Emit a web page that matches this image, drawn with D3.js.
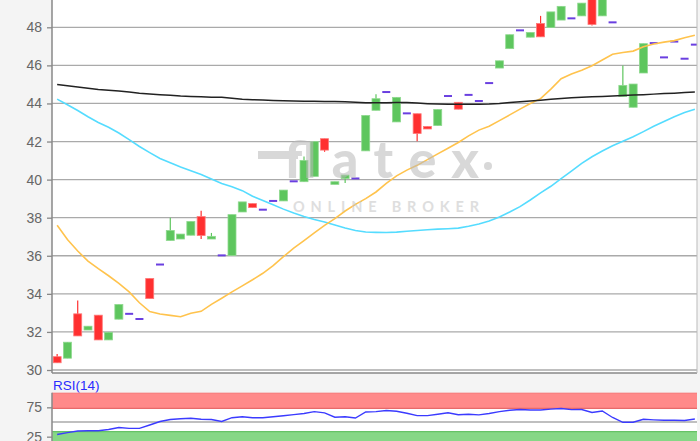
<!DOCTYPE html>
<html><head><meta charset="utf-8">
<script src="https://cdn.jsdelivr.net/npm/d3@7"></script>
<style>html,body{margin:0;padding:0;background:#f4f4f4;} svg{display:block;}</style>
</head><body><svg id="c" width="700" height="441"></svg>
<script>
// ---- data ----
const opens  = [30.70,30.62,32.95,32.10,32.88,31.58,32.67,32.95,32.68,34.81,35.54,36.80,36.88,37.08,38.06,36.88,36.02,36.02,38.30,38.74,38.42,38.88,38.88,39.91,39.89,40.17,42.15,39.75,40.06,40.06,41.51,43.64,44.60,43.03,43.48,43.46,42.79,42.84,44.39,44.06,44.45,44.13,45.07,45.86,46.88,47.84,47.48,48.20,47.99,48.38,48.47,48.60,49.90,48.60,48.26,44.36,43.80,45.60,47.17,46.42,47.25,46.35,47.09];
const closes = [30.38,31.46,31.79,32.30,31.58,31.98,33.44,32.95,32.68,33.75,35.54,37.33,37.14,37.80,37.06,37.02,36.02,38.16,38.83,38.53,38.42,38.88,39.45,39.91,41.01,42.00,41.55,39.89,40.24,40.06,43.37,44.25,44.60,44.32,43.48,42.42,42.66,43.68,44.39,43.70,44.45,44.13,45.07,46.24,47.61,47.84,47.73,47.50,48.81,49.10,48.47,49.27,48.15,49.70,48.26,44.95,45.02,47.14,47.17,46.42,47.25,46.35,47.09];
const highs  = [30.84,31.46,33.65,32.30,32.88,31.98,33.44,32.95,32.68,34.81,35.54,38.00,37.14,37.80,38.37,37.20,36.02,38.16,38.83,38.74,38.42,38.88,39.45,39.91,41.22,42.00,42.15,39.89,40.24,40.06,43.37,44.49,44.60,44.32,43.48,43.46,42.79,43.68,44.39,44.06,44.45,44.13,45.07,46.24,47.61,47.84,47.73,48.60,48.81,49.10,48.47,49.27,49.90,49.70,48.26,46.00,45.02,47.14,47.17,46.42,47.25,46.35,47.09];
const lows   = [30.38,30.62,31.79,32.10,31.58,31.58,32.67,32.95,32.68,33.75,35.54,36.80,36.88,37.08,36.88,36.88,36.02,36.02,38.30,38.53,38.42,38.88,38.88,39.91,39.89,40.17,41.46,39.75,39.82,40.06,41.51,43.64,44.60,43.03,43.48,42.02,42.66,42.84,44.39,43.70,44.45,44.13,45.07,45.86,46.88,47.84,47.48,47.50,47.99,48.38,48.47,48.60,48.10,48.60,48.26,44.36,43.80,45.60,47.17,46.42,47.25,46.35,47.09];
const maShort = [37.6,36.85,36.25,35.72,35.32,34.95,34.55,34.1,33.53,33.07,32.94,32.87,32.8,32.98,33.08,33.45,33.77,34.1,34.42,34.74,35.08,35.48,35.95,36.4,36.8,37.2,37.6,37.95,38.35,38.7,39.0,39.35,39.8,40.2,40.5,40.75,41.05,41.35,41.65,41.95,42.3,42.6,42.8,43.1,43.4,43.7,44.0,44.25,44.75,45.3,45.55,45.75,45.98,46.28,46.58,46.68,46.75,46.98,47.12,47.22,47.3,47.45,47.58];
const maMid = [44.23,43.93,43.63,43.3,43.0,42.75,42.45,42.1,41.74,41.42,41.11,40.88,40.66,40.46,40.27,40.03,39.8,39.62,39.42,39.13,38.9,38.68,38.45,38.24,38.06,37.9,37.77,37.62,37.46,37.33,37.25,37.23,37.22,37.24,37.29,37.33,37.37,37.4,37.42,37.45,37.55,37.67,37.83,38.04,38.3,38.58,38.93,39.3,39.65,40.05,40.45,40.85,41.2,41.5,41.78,42.02,42.25,42.52,42.8,43.05,43.3,43.52,43.7];
const maLong = [45.0,44.93,44.86,44.8,44.73,44.69,44.66,44.6,44.54,44.5,44.46,44.43,44.39,44.37,44.35,44.33,44.32,44.27,44.22,44.2,44.18,44.16,44.14,44.13,44.12,44.11,44.1,44.1,44.09,44.06,44.04,44.04,44.04,44.05,44.05,44.02,43.99,43.97,43.96,43.96,43.96,43.96,43.97,44.0,44.05,44.09,44.13,44.17,44.22,44.26,44.3,44.33,44.35,44.37,44.39,44.42,44.44,44.46,44.49,44.52,44.54,44.57,44.6];
const rsi = [28.6,32.0,34.6,35.1,35.1,37.2,40.6,39.2,39.2,44.9,50.8,54.3,55.6,56.3,54.6,54.3,50.8,57.3,58.9,57.3,57.3,59.0,60.6,62.5,64.5,67.6,65.5,58.2,59.0,56.8,67.1,67.6,69.6,68.3,65.0,60.8,60.8,63.1,65.7,62.3,63.3,62.1,64.5,67.6,70.0,71.3,70.5,70.5,71.9,73.1,71.0,71.3,66.2,68.8,57.7,49.5,49.5,54.6,53.7,52.9,53.1,52.5,55.1];
const days = opens.map((_, i) => i + 1);
const yTicks = [30,32,34,36,38,40,42,44,46,48];
const rsiTicks = [25,75];
const rsiGrid = [50];
const rsiBands = [{from:73.3,to:100,fill:"#ff8a8a",edge:"#e86a6a"},{from:0,to:33.5,fill:"#86d786",edge:"#66c266"}];
const rsiLabel = "RSI(14)";
const wmMain = "flatex", wmSub = "ONLINE BROKER";

// ---- layout ----
const svg = d3.select("#c");
const L = 52, R = 697, mainBottom = 373;
const x = d3.scaleBand().domain(days).range([52, 700]);
const cx = d => x(d) + x.bandwidth() / 2;
const y = d3.scaleLinear().domain([30, 48]).range([370, 27.3]);
const ry = d3.scaleLinear().domain([0, 100]).range([451.35, 392.65]);

svg.append("rect").attr("width",700).attr("height",441).attr("fill","#f4f4f4");
svg.append("defs").append("clipPath").attr("id","mc").append("rect")
  .attr("x",L).attr("y",-20).attr("width",R-L).attr("height",mainBottom+20);
svg.select("defs").append("clipPath").attr("id","rc").append("rect")
  .attr("x",L).attr("y",392.65).attr("width",R-L).attr("height",60);

// main plot background
svg.append("rect").attr("x",L).attr("y",-5).attr("width",R-L).attr("height",mainBottom+5).attr("fill","#fff");
const g = svg.append("g").attr("clip-path","url(#mc)");
g.selectAll("line.grid").data(yTicks).join("line").attr("class","grid")
  .attr("x1",L).attr("x2",R).attr("y1",d=>y(d)).attr("y2",d=>y(d))
  .attr("stroke","#aaa").attr("stroke-width",1.3);

// candles
const idx = d3.range(days.length);
const cg = g.append("g");
idx.forEach(i => {
  const o = opens[i], c = closes[i], h = highs[i], l = lows[i];
  const xc = cx(days[i]);
  if (o === c) {
    cg.append("line").attr("x1",xc-4).attr("x2",xc+4).attr("y1",y(o)).attr("y2",y(o))
      .attr("stroke","#6a3fe0").attr("stroke-width",2);
    return;
  }
  const up = c > o;
  const col = up ? "#5ec65e" : "#ff3030";
  cg.append("line").attr("x1",xc).attr("x2",xc).attr("y1",y(h)).attr("y2",y(l))
    .attr("stroke",col).attr("stroke-width",1.2);
  cg.append("rect").attr("x",xc-4).attr("width",8)
    .attr("y",y(Math.max(o,c))).attr("height",Math.max(1.5, y(Math.min(o,c))-y(Math.max(o,c))))
    .attr("fill",col).attr("stroke", up ? "#8fd98f" : "#ff7a7a").attr("stroke-width",0.8);
});

// moving averages
const line = d3.line().x((v,i)=>cx(days[i])).y(v=>y(v)).curve(d3.curveLinear);
g.append("path").datum(maMid).attr("d",line).attr("fill","none").attr("stroke","#55dcff").attr("stroke-width",1.6);
g.append("path").datum(maShort).attr("d",line).attr("fill","none").attr("stroke","#ffc34d").attr("stroke-width",1.6);
g.append("path").datum(maLong).attr("d",line).attr("fill","none").attr("stroke","#222").attr("stroke-width",1.5);

// watermark
const wm = g.append("g").attr("opacity",0.55);
wm.append("rect").attr("x",258).attr("y",151).attr("width",40).attr("height",8).attr("fill","#b9b9b9");
wm.append("text").attr("x",284).attr("y",178).text(wmMain)
  .attr("font-family","Lato, 'Open Sans', sans-serif").attr("font-weight",900).attr("font-size",52)
  .attr("textLength",195).attr("lengthAdjust","spacing").attr("fill","#b9b9b9");
wm.append("circle").attr("cx",488).attr("cy",166).attr("r",4).attr("fill","#b9b9b9");
wm.append("text").attr("x",293).attr("y",212).text(wmSub)
  .attr("font-family","Lato, 'Open Sans', sans-serif").attr("font-weight",700).attr("font-size",14.5)
  .attr("textLength",186).attr("lengthAdjust","spacing").attr("fill","#c4c4c4");

// main axis
svg.append("line").attr("x1",L).attr("x2",R).attr("y1",mainBottom).attr("y2",mainBottom).attr("stroke","#888").attr("stroke-width",1.5);
svg.append("line").attr("x1",R).attr("x2",R).attr("y1",0).attr("y2",mainBottom).attr("stroke","#bbb").attr("stroke-width",1);
const ax = svg.append("g").attr("transform",`translate(${L},0)`)
  .call(d3.axisLeft(y).tickValues(yTicks).tickSize(5).tickPadding(5).tickFormat(d3.format("d")));
ax.select(".domain").attr("d",`M0,-5V${mainBottom}`).attr("stroke","#888").attr("stroke-width",1.5);
ax.selectAll(".tick line").attr("stroke","#888").attr("stroke-width",1.3);
ax.selectAll(".tick text").attr("fill","#666").attr("font-size",14).attr("font-family","'Liberation Sans', Arial, sans-serif");

// RSI panel
svg.append("text").attr("x",53).attr("y",390).text(rsiLabel).attr("fill","#2b2bff")
  .attr("font-size",13.5).attr("font-family","'Liberation Sans', Arial, sans-serif");
svg.append("rect").attr("x",L).attr("y",392.65).attr("width",R-L).attr("height",60).attr("fill","#fff");
const rg = svg.append("g").attr("clip-path","url(#rc)");
rsiBands.forEach(b => {
  rg.append("rect").attr("x",L).attr("width",R-L).attr("y",ry(b.to)).attr("height",ry(b.from)-ry(b.to))
    .attr("fill",b.fill);
  [b.from,b.to].forEach(v => rg.append("line").attr("x1",L).attr("x2",R).attr("y1",ry(v)).attr("y2",ry(v))
    .attr("stroke",b.edge).attr("stroke-width",1.3));
});
rg.selectAll("line.rg").data(rsiGrid).join("line").attr("class","rg")
  .attr("x1",L).attr("x2",R).attr("y1",d=>ry(d)).attr("y2",d=>ry(d)).attr("stroke","#aaa").attr("stroke-width",1.3);
const rline = d3.line().x((v,i)=>cx(days[i])).y(v=>ry(v));
rg.append("path").datum(rsi).attr("d",rline).attr("fill","none").attr("stroke","#3b3bff").attr("stroke-width",1.4);
const rax = svg.append("g").attr("transform",`translate(${L},0)`)
  .call(d3.axisLeft(ry).tickValues(rsiTicks).tickSize(5).tickPadding(5));
rax.select(".domain").attr("d","M0,392.65V441").attr("stroke","#888").attr("stroke-width",1.5);
rax.selectAll(".tick line").attr("stroke","#888").attr("stroke-width",1.3);
rax.selectAll(".tick text").attr("fill","#666").attr("font-size",14).attr("font-family","'Liberation Sans', Arial, sans-serif");
</script></body></html>
